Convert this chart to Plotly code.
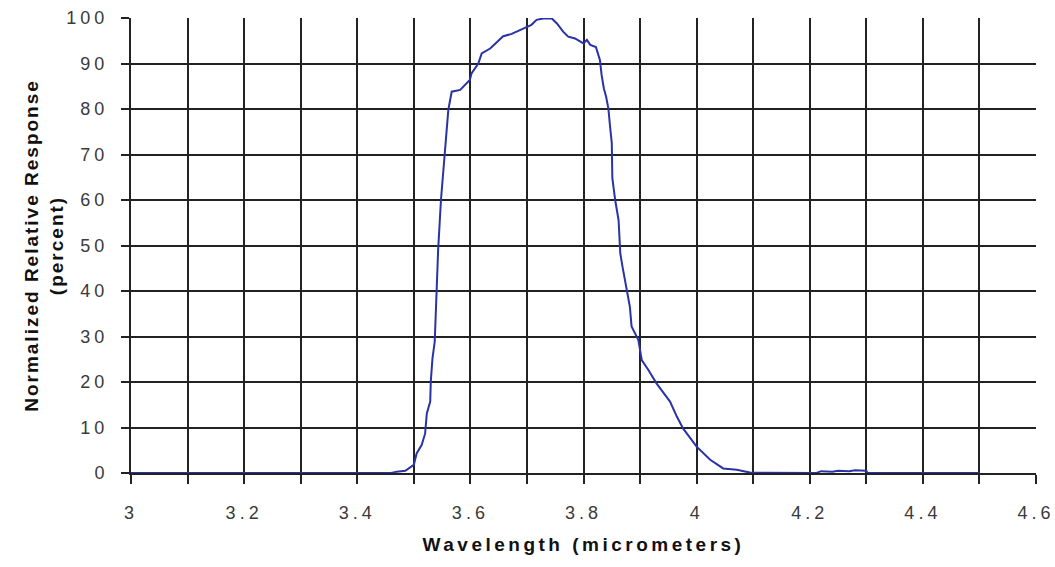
import plotly.graph_objects as go

wavelength = [3.00, 3.46, 3.47, 3.485, 3.500, 3.505, 3.514, 3.520, 3.523, 3.529, 3.530, 3.533,
              3.537, 3.540, 3.543, 3.548, 3.555, 3.557, 3.561, 3.567, 3.582, 3.599, 3.602,
              3.614, 3.620, 3.635, 3.647, 3.658, 3.673, 3.685, 3.700, 3.708, 3.717, 3.729,
              3.744, 3.753, 3.764, 3.773, 3.785, 3.800, 3.806, 3.812, 3.822, 3.829, 3.832,
              3.836, 3.840, 3.844, 3.847, 3.850, 3.851, 3.856, 3.862, 3.865, 3.869, 3.876,
              3.882, 3.885, 3.897, 3.903, 3.915, 3.929, 3.953, 3.965, 3.976, 4.000, 4.024,
              4.047, 4.071, 4.094, 4.212, 4.220, 4.240, 4.250, 4.270, 4.280, 4.300, 4.302,
              4.500]
response = [0.0, 0.0, 0.3, 0.5, 1.8, 4.3, 6.2, 8.7, 13.1, 15.7, 20.1, 25.2,
            28.9, 38.0, 49.0, 60.0, 71.0, 75.4, 79.8, 83.8, 84.2, 86.4, 87.8,
            90.0, 92.2, 93.3, 94.8, 96.0, 96.5, 97.2, 98.0, 98.5, 99.6, 99.9,
            99.9, 98.8, 97.0, 95.9, 95.5, 94.4, 95.2, 94.1, 93.6, 90.8, 87.5,
            84.5, 82.7, 80.1, 76.1, 72.5, 64.8, 60.0, 55.6, 48.3, 45.3, 40.9,
            36.5, 32.2, 29.2, 24.8, 22.6, 19.7, 15.7, 12.4, 9.8, 5.8, 2.9,
            1.0, 0.7, 0.1, 0.0, 0.4, 0.3, 0.5, 0.4, 0.6, 0.5, 0.0,
            0.0]

x_tick_vals = [3.0, 3.2, 3.4, 3.6, 3.8, 4.0, 4.2, 4.4, 4.6]
x_tick_text = ["3", "3.2", "3.4", "3.6", "3.8", "4", "4.2", "4.4", "4.6"]

FONT = "Liberation Sans, Arial, sans-serif"
GRID = "#222222"

fig = go.Figure()
fig.add_trace(go.Scatter(x=wavelength, y=response, mode="lines",
                         line=dict(color="#2a33a6", width=2), showlegend=False))

fig.update_layout(
    width=1055, height=567,
    margin=dict(l=131, r=19, t=18, b=94),
    paper_bgcolor="white", plot_bgcolor="white",
    font=dict(family=FONT, size=18, color="#3a3a3a"),
)
fig.update_xaxes(
    range=[3.0, 4.6], tickvals=x_tick_vals, ticktext=x_tick_text,
    ticks="outside", ticklen=9, tickwidth=2, tickcolor=GRID,
    showgrid=True, gridcolor=GRID, gridwidth=2,
    minor=dict(dtick=0.1, tick0=3.0, ticks="outside", ticklen=9, tickwidth=2,
               tickcolor=GRID, showgrid=True, gridcolor=GRID, gridwidth=2),
    showline=True, linecolor=GRID, linewidth=2, zeroline=False,
    ticklabelstandoff=13, layer="below traces", automargin=False,
    title=dict(text="Wavelength (micrometers)",
               font=dict(family=FONT, size=19, color="#111111", weight="bold"),
               standoff=16),
)
fig.update_yaxes(
    range=[0, 100], dtick=10, tick0=0,
    ticks="outside", ticklen=8, tickwidth=2, tickcolor=GRID,
    showgrid=True, gridcolor=GRID, gridwidth=2,
    showline=True, linecolor=GRID, linewidth=2, zeroline=False,
    ticklabelstandoff=9, layer="below traces", automargin=False,
    title=dict(text="Normalized Relative Response<br>(percent)",
               font=dict(family=FONT, size=19, color="#111111", weight="bold"), standoff=10),
)

post = """
document.body.style.margin = '0';
document.body.style.overflow = 'hidden';
var gd = document.getElementById('{plot_id}');
function spacing(){
  gd.querySelectorAll('.xtick text, .ytick text').forEach(function(t){ t.style.letterSpacing = '4px'; });
  var xt = gd.querySelector('.xtitle'); if (xt) { xt.style.letterSpacing = '3.5px'; }
  var yt = gd.querySelector('.ytitle'); if (yt) { yt.style.letterSpacing = '2px'; }
}
spacing();
gd.on('plotly_afterplot', spacing);
"""

fig.write_html("out.html", post_script=post, config={"displayModeBar": False})
